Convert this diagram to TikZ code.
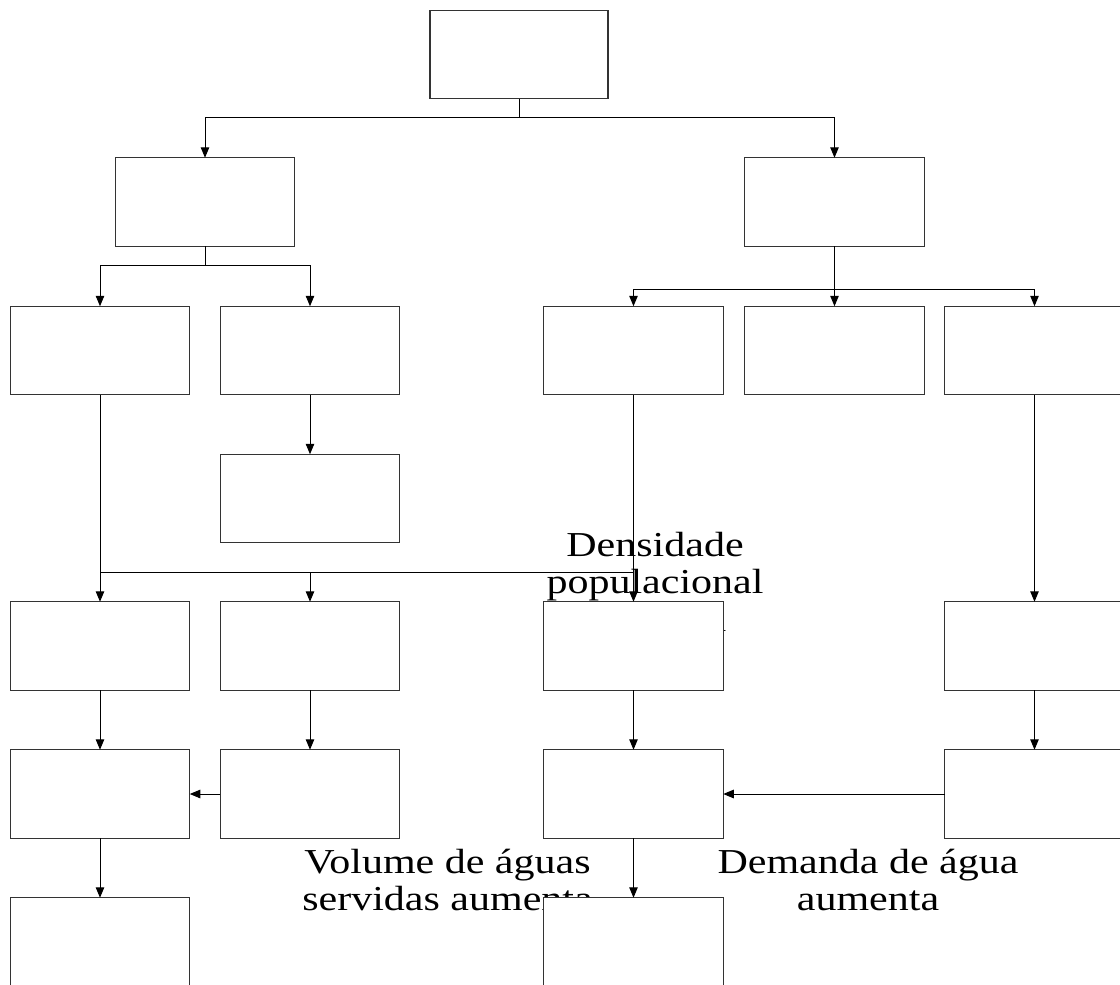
\documentclass[tikz,border=0pt]{standalone}
\usepackage{fontspec}
\newfontfamily\lblfont[FakeStretch=1.2]{Liberation Serif}
\usetikzlibrary{arrows.meta}
\begin{document}
\begin{tikzpicture}[x=1pt,y=-1pt,
  bx/.style={draw=black!80,line width=1.2pt,fill=white,minimum width=179.5pt,minimum height=88.5pt,inner sep=0pt,outer sep=0pt},
  ln/.style={draw=black,line width=1pt},
  arr/.style={ln,-{Triangle[length=10.5pt,width=8.5pt]}},
  lbl/.style={inner sep=0pt,anchor=base,font=\lblfont\fontsize{35}{37.5}\selectfont}]
\useasboundingbox (0,0) rectangle (1120,985);
\clip (0,0) rectangle (1120,985);
% labels (drawn first, boxes cover parts of them)
\node[lbl] (t1) at (655,556) {\begin{tabular}[t]{@{}c@{}}Densidade\\populacional\\aumenta\end{tabular}};
\node[lbl] (t2) at (447.5,873) {\begin{tabular}[t]{@{}c@{}}Volume de águas\\servidas aumenta\end{tabular}};
\node[lbl] (t3) at (868,873) {\begin{tabular}[t]{@{}c@{}}Demanda de água\\aumenta\end{tabular}};
% boxes
\node[bx,minimum width=178pt] (top) at (519,54.5) {};
\node[bx] (l2a) at (205,202) {};
\node[bx] (l2b) at (834.5,202) {};
\node[bx] (r3a) at (100,350.5) {};
\node[bx] (r3b) at (310,350.5) {};
\node[bx] (r3c) at (633.5,350.5) {};
\node[bx] (r3d) at (834.5,350.5) {};
\node[bx] (r3e) at (1034.5,350.5) {};
\node[bx] (r35) at (310,498.5) {};
\node[bx] (r4a) at (100,646) {};
\node[bx] (r4b) at (310,646) {};
\node[bx] (r4c) at (633.5,646) {};
\node[bx] (r4e) at (1034.5,646) {};
\node[bx] (r5a) at (100,794) {};
\node[bx] (r5b) at (310,794) {};
\node[bx] (r5c) at (633.5,794) {};
\node[bx] (r5e) at (1034.5,794) {};
\node[bx] (r6a) at (100,942) {};
\node[bx] (r6c) at (633.5,942) {};
% connectors
\coordinate (j1) at (519,117);
\draw[ln] (top.south) -- (j1);
\draw[arr] (j1) -| (l2a);
\draw[arr] (j1) -| (l2b);
\coordinate (j2) at (205,265);
\draw[ln] (l2a.south) -- (j2);
\draw[arr] (j2) -| (r3a);
\draw[arr] (j2) -| (r3b);
\coordinate (j3) at (834.5,289);
\draw[arr] (l2b) -- (r3d);
\draw[arr] (j3) -| (r3c);
\draw[arr] (j3) -| (r3e);
\draw[arr] (r3b) -- (r35);
\coordinate (j4) at (100,572);
\draw[arr] (r3a) -- (r4a);
\draw[ln] (j4) -- (r3c.south |- j4);
\draw[arr] (r4b.north |- j4) -- (r4b);
\draw[arr] (r3c) -- (r4c);
\draw[arr] (r3e) -- (r4e);
\draw[arr] (r4a) -- (r5a);
\draw[arr] (r4b) -- (r5b);
\draw[arr] (r4c) -- (r5c);
\draw[arr] (r4e) -- (r5e);
\draw[arr] (r5b) -- (r5a);
\draw[arr] (r5e) -- (r5c);
\draw[arr] (r5a) -- (r6a);
\draw[arr] (r5c) -- (r6c);
\end{tikzpicture}
\end{document}
